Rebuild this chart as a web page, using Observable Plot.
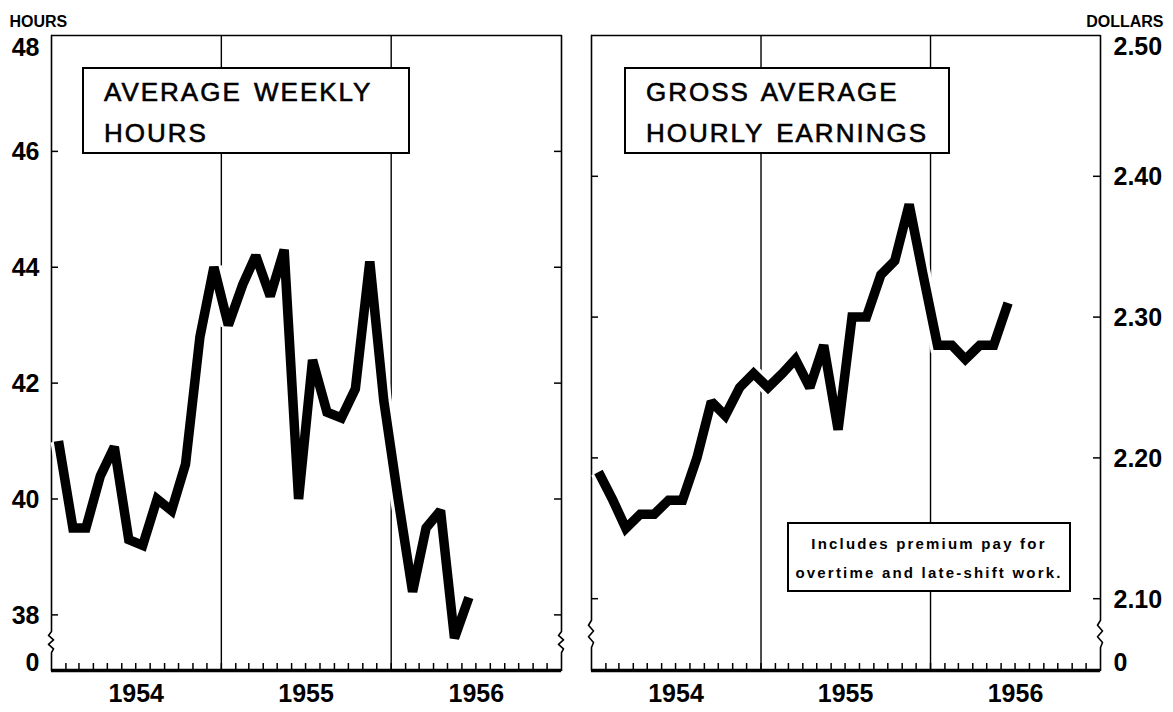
<!DOCTYPE html>
<html>
<head>
<meta charset="utf-8">
<script src="https://cdn.jsdelivr.net/npm/d3@7"></script>
<script src="https://cdn.jsdelivr.net/npm/@observablehq/plot@0.6"></script>
<style>
  body { margin: 0; background: #fff; }
  #wrap { position: relative; width: 1173px; height: 712px; overflow: hidden; }
  #left { position: absolute; left: 0; top: 0; }
  #right { position: absolute; left: 576px; top: 0; }
  .box { position: absolute; background: #fff; border: 2.5px solid #000; box-sizing: border-box; color: #000; }
  .title { font-family: "Liberation Sans", Arial, sans-serif; font-size: 26px; letter-spacing: 2px; word-spacing: 3px; line-height: 41px; padding: 3px 0 0 20px; white-space: nowrap; -webkit-text-stroke: 0.6px #000; }
  .note { font-family: "Liberation Sans", Arial, sans-serif; font-weight: bold; font-size: 15px; letter-spacing: 2.2px; line-height: 29px; text-align: center; padding-top: 5px; white-space: nowrap; }
  g[aria-label="unit"] text { letter-spacing: 2.2px; }
</style>
</head>
<body>
<div id="wrap">
  <div id="left"></div>
  <div id="right"></div>
  <div class="box title" style="left:82px;top:67px;width:328px;height:87px;">AVERAGE WEEKLY<br>HOURS</div>
  <div class="box title" style="left:624px;top:67px;width:326px;height:87px;">GROSS AVERAGE<br>HOURLY EARNINGS</div>
  <div class="box note" style="left:787px;top:522px;width:284px;height:70px;">Includes premium pay for<br>overtime and late-shift work.</div>
</div>
<script>
// ---- data (monthly, starting January 1954) ----
const startYear = 1954;
const years = ["1954", "1955", "1956"];
const hoursValues = [41.0, 39.5, 39.5, 40.4, 40.9, 39.3, 39.2, 40.0, 39.8, 40.6, 42.8, 44.0,
                     43.0, 43.7, 44.2, 43.5, 44.3, 40.0, 42.4, 41.5, 41.4, 41.9, 44.1, 41.7,
                     40.0, 38.4, 39.5, 39.8, 37.6, 38.3];
const earningsValues = [2.19, 2.17, 2.15, 2.16, 2.16, 2.17, 2.17, 2.20, 2.24, 2.23, 2.25, 2.26,
                        2.25, 2.26, 2.27, 2.25, 2.28, 2.22, 2.30, 2.30, 2.33, 2.34, 2.38, 2.33,
                        2.28, 2.28, 2.27, 2.28, 2.28, 2.31];
const hoursTicks = [38, 40, 42, 44, 46, 48];
const dollarTicks = [2.10, 2.20, 2.30, 2.40, 2.50];
const baselineLabel = "0";

const FONT = "Liberation Sans, Arial, sans-serif";
const x0 = new Date(Date.UTC(startYear, 0, 1));
const x1 = new Date(Date.UTC(startYear + years.length, 0, 1));
const monthTicks = d3.utcMonth.range(x0, x1).slice(1);
const yearDividers = years.slice(1).map(y => new Date(Date.UTC(+y, 0, 1)));
const yearMids = years.map(y => new Date(Date.UTC(+y, 6, 2)));
const toRows = vals => vals.map((v, i) => ({date: new Date(Date.UTC(startYear, i, 16)), value: v}));

function panel({width, marginLeft, marginRight, yMin, ticks, fmt, rows, side, unit, topDy}) {
  const H = 712, mT = 35, mB = 42;
  const plotW = width - marginLeft - marginRight;
  const msPerPx = (x1 - x0) / plotW;
  const yMax = ticks[ticks.length - 1];
  const low = ticks[0];
  const gap = low - yMin;
  const zig = [[0, 0.30], [-3, 0.37], [2, 0.45], [-3, 0.53], [2, 0.61], [0, 0.68]];
  const border = edge => [{x: edge, y: yMax},
    ...zig.map(([px, f]) => ({x: new Date(edge.getTime() + px * msPerPx), y: low - f * gap})),
    {x: edge, y: yMin}];
  const inner = ticks.slice(0, -1);
  const labelX = side === "left" ? x0 : x1;
  const anchor = side === "left" ? "end" : "start";
  const ldx = side === "left" ? -12 : 13;
  const lbl = {textAnchor: anchor, dx: ldx, fontSize: 25, fontWeight: "bold", fill: "black"};
  return Plot.plot({
    width, height: H, marginLeft, marginRight, marginTop: mT, marginBottom: mB,
    style: {fontFamily: FONT, background: "white", color: "black"},
    x: {domain: [x0, x1], axis: null},
    y: {domain: [yMin, yMax], axis: null},
    marks: [
      Plot.ruleX(yearDividers, {stroke: "black", strokeWidth: 1.4}),
      Plot.line(border(x0), {x: "x", y: "y", stroke: "black", strokeWidth: 1.6, curve: "linear"}),
      Plot.line(border(x1), {x: "x", y: "y", stroke: "black", strokeWidth: 1.6, curve: "linear"}),
      Plot.ruleY([yMax], {stroke: "black", strokeWidth: 1.6}),
      Plot.ruleX(monthTicks, {stroke: "black", strokeWidth: 1.5, insetTop: (H - mT - mB) - 7}),
      Plot.ruleY([yMin], {stroke: "black", strokeWidth: 3.5}),
      Plot.ruleY(inner, {stroke: "black", strokeWidth: 1.5, insetRight: plotW - 7}),
      Plot.ruleY(inner, {stroke: "black", strokeWidth: 1.5, insetLeft: plotW - 7}),
      Plot.line(rows, {x: "date", y: "value", stroke: "white", strokeWidth: 16, strokeLinejoin: "miter", strokeMiterlimit: 2, strokeLinecap: "butt"}),
      Plot.line(rows, {x: "date", y: "value", stroke: "black", strokeWidth: 9.5, strokeLinejoin: "miter", strokeMiterlimit: 2, strokeLinecap: "butt"}),
      Plot.text(inner, {x: () => labelX, y: d => d, text: fmt, dy: 1, ...lbl}),
      Plot.text([yMax], {x: () => labelX, y: d => d, text: fmt, dy: topDy, ...lbl}),
      Plot.text([baselineLabel], {x: () => labelX, y: () => yMin, text: d => d, dy: -8, ...lbl}),
      Plot.text(years, {x: (d, i) => yearMids[i], frameAnchor: "bottom", text: d => d, dy: 31, fontSize: 25, fontWeight: "bold", fill: "black"}),
      Plot.text([unit], {frameAnchor: side === "left" ? "top-left" : "top-right", text: d => d, ariaLabel: "unit",
        textAnchor: side === "left" ? "start" : "end", dx: side === "left" ? -42 : 63, dy: -20,
        fontSize: 16, fontWeight: "bold", fill: "black"})
    ]
  });
}

const leftChart = panel({
  width: 576, marginLeft: 51, marginRight: 15, yMin: 37.04,
  ticks: hoursTicks, fmt: d => String(d), rows: toRows(hoursValues),
  side: "left", unit: "HOURS", topDy: 12
});
const rightChart = panel({
  width: 597, marginLeft: 15, marginRight: 73, yMin: 2.049,
  ticks: dollarTicks, fmt: d => d.toFixed(2), rows: toRows(earningsValues),
  side: "right", unit: "DOLLARS", topDy: 11
});
document.getElementById("left").appendChild(leftChart);
document.getElementById("right").appendChild(rightChart);
</script>
</body>
</html>
